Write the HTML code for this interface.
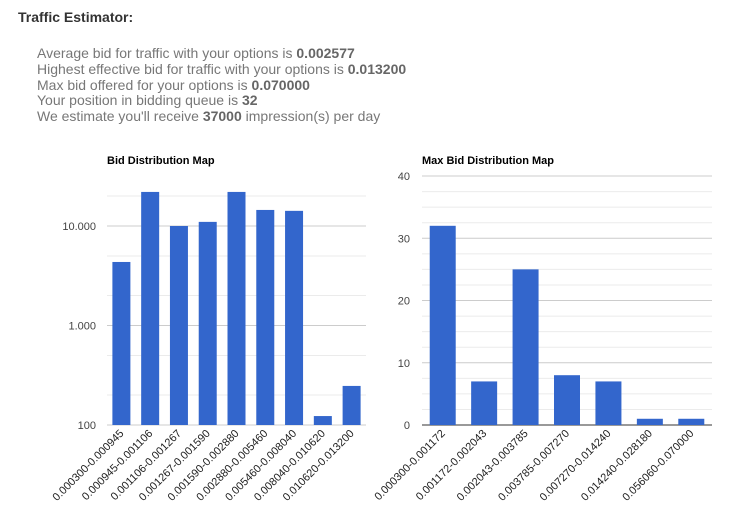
<!DOCTYPE html>
<html><head><meta charset="utf-8">
<style>
body{margin:0;width:743px;height:530px;background:#fff;font-family:"Liberation Sans",Arial,sans-serif;overflow:hidden;position:relative}
.title{position:absolute;left:18px;top:9px;font-size:14px;font-weight:bold;color:#333}
.info{position:absolute;left:37px;top:46px;font-size:14px;color:#777;line-height:15.8px}
.info b{color:#666}
svg{position:absolute;left:0;top:0}
</style></head><body>
<div class="title">Traffic Estimator:</div>
<div class="info">
Average bid for traffic with your options is <b>0.002577</b><br>
Highest effective bid for traffic with your options is <b>0.013200</b><br>
Max bid offered for your options is <b>0.070000</b><br>
Your position in bidding queue is <b>32</b><br>
We estimate you'll receive <b>37000</b> impression(s) per day
</div>
<svg id="svg" width="743" height="530"></svg>
<script>
const bidCategories=["0.000300-0.000945","0.000945-0.001106","0.001106-0.001267","0.001267-0.001590","0.001590-0.002880","0.002880-0.005460","0.005460-0.008040","0.008040-0.010620","0.010620-0.013200"];
const bidValues=[4350,22000,10000,11000,22000,14500,14200,123,247];
const bidTicks=[100,1000,10000];
const bidTickLabels=["100","1.000","10.000"];
const maxCategories=["0.000300-0.001172","0.001172-0.002043","0.002043-0.003785","0.003785-0.007270","0.007270-0.014240","0.014240-0.028180","0.056060-0.070000"];
const maxValues=[32,7,25,8,7,1,1];
const maxTicks=[0,10,20,30,40];

const NS="http://www.w3.org/2000/svg";
const svg=document.getElementById('svg');
function mk(tag,attrs,parent){const e=document.createElementNS(NS,tag);for(const k in attrs)e.setAttribute(k,attrs[k]);(parent||svg).appendChild(e);return e;}

// Left chart (log)
const L={x0:107,x1:366,yBase:425,decade:99.5};
const ly=v=>L.yBase-(Math.log10(v)-2)*L.decade;
const g1=mk('g',{});


const t1=mk('text',{x:107,y:164,'font-size':11,'font-weight':'bold',fill:'#000'},g1);
t1.textContent="Bid Distribution Map";


[2,5].forEach(m=>[100,1000,10000].forEach(d=>{const v=m*d;const y=ly(v);if(y>180&&y<425){const l=mk('line',{x1:L.x0,x2:L.x1,y1:y,y2:y,stroke:'#ebebeb'},g1);}}));
bidTicks.forEach((v,i)=>{const y=ly(v);const l=mk('line',{x1:L.x0,x2:L.x1,y1:y,y2:y,stroke:'#ccc'},g1);


const t=mk('text',{x:96,y:y+4,'font-size':11,fill:'#444','text-anchor':'end'},g1);t.textContent=bidTickLabels[i];

});
const bw1=(L.x1-L.x0)/bidValues.length;
bidValues.forEach((v,i)=>{const cx=L.x0+bw1*(i+0.5);const y=ly(v);
const r=mk('rect',{x:cx-9,y:y,width:18,height:L.yBase-y,fill:'#3366cc'},g1);


const t=mk('text',{x:0,y:0,'font-size':11,fill:'#222','text-anchor':'end',transform:`translate(${cx+3},${434}) rotate(-45)`},g1);t.textContent=bidCategories[i];

});

// Right chart (linear)
const R={x0:422,x1:712,y0:425,y40:176};
const ry=v=>R.y0-(v/40)*(R.y0-R.y40);
const g2=mk('g',{});


const t2=mk('text',{x:422,y:164,'font-size':11,'font-weight':'bold',fill:'#000'},g2);
t2.textContent="Max Bid Distribution Map";


for(let v=2.5;v<40;v+=2.5){if(v%10){const y=ry(v);const l=mk('line',{x1:R.x0,x2:R.x1,y1:y,y2:y,stroke:'#ebebeb'},g2);}}
maxTicks.forEach(v=>{const y=ry(v);const l=mk('line',{x1:R.x0,x2:R.x1,y1:y,y2:y,stroke:v===0?'#333':'#ccc'},g2);


const t=mk('text',{x:410,y:y+4,'font-size':11,fill:'#444','text-anchor':'end'},g2);t.textContent=String(v);

});
const bw2=(R.x1-R.x0)/maxValues.length;
maxValues.forEach((v,i)=>{const cx=R.x0+bw2*(i+0.5);const y=ry(v);
const r=mk('rect',{x:cx-13,y:y,width:26,height:R.y0-y,fill:'#3366cc'},g2);


const t=mk('text',{x:0,y:0,'font-size':11,fill:'#222','text-anchor':'end',transform:`translate(${cx+3},${434}) rotate(-45)`},g2);t.textContent=maxCategories[i];

});
</script>
</body></html>
